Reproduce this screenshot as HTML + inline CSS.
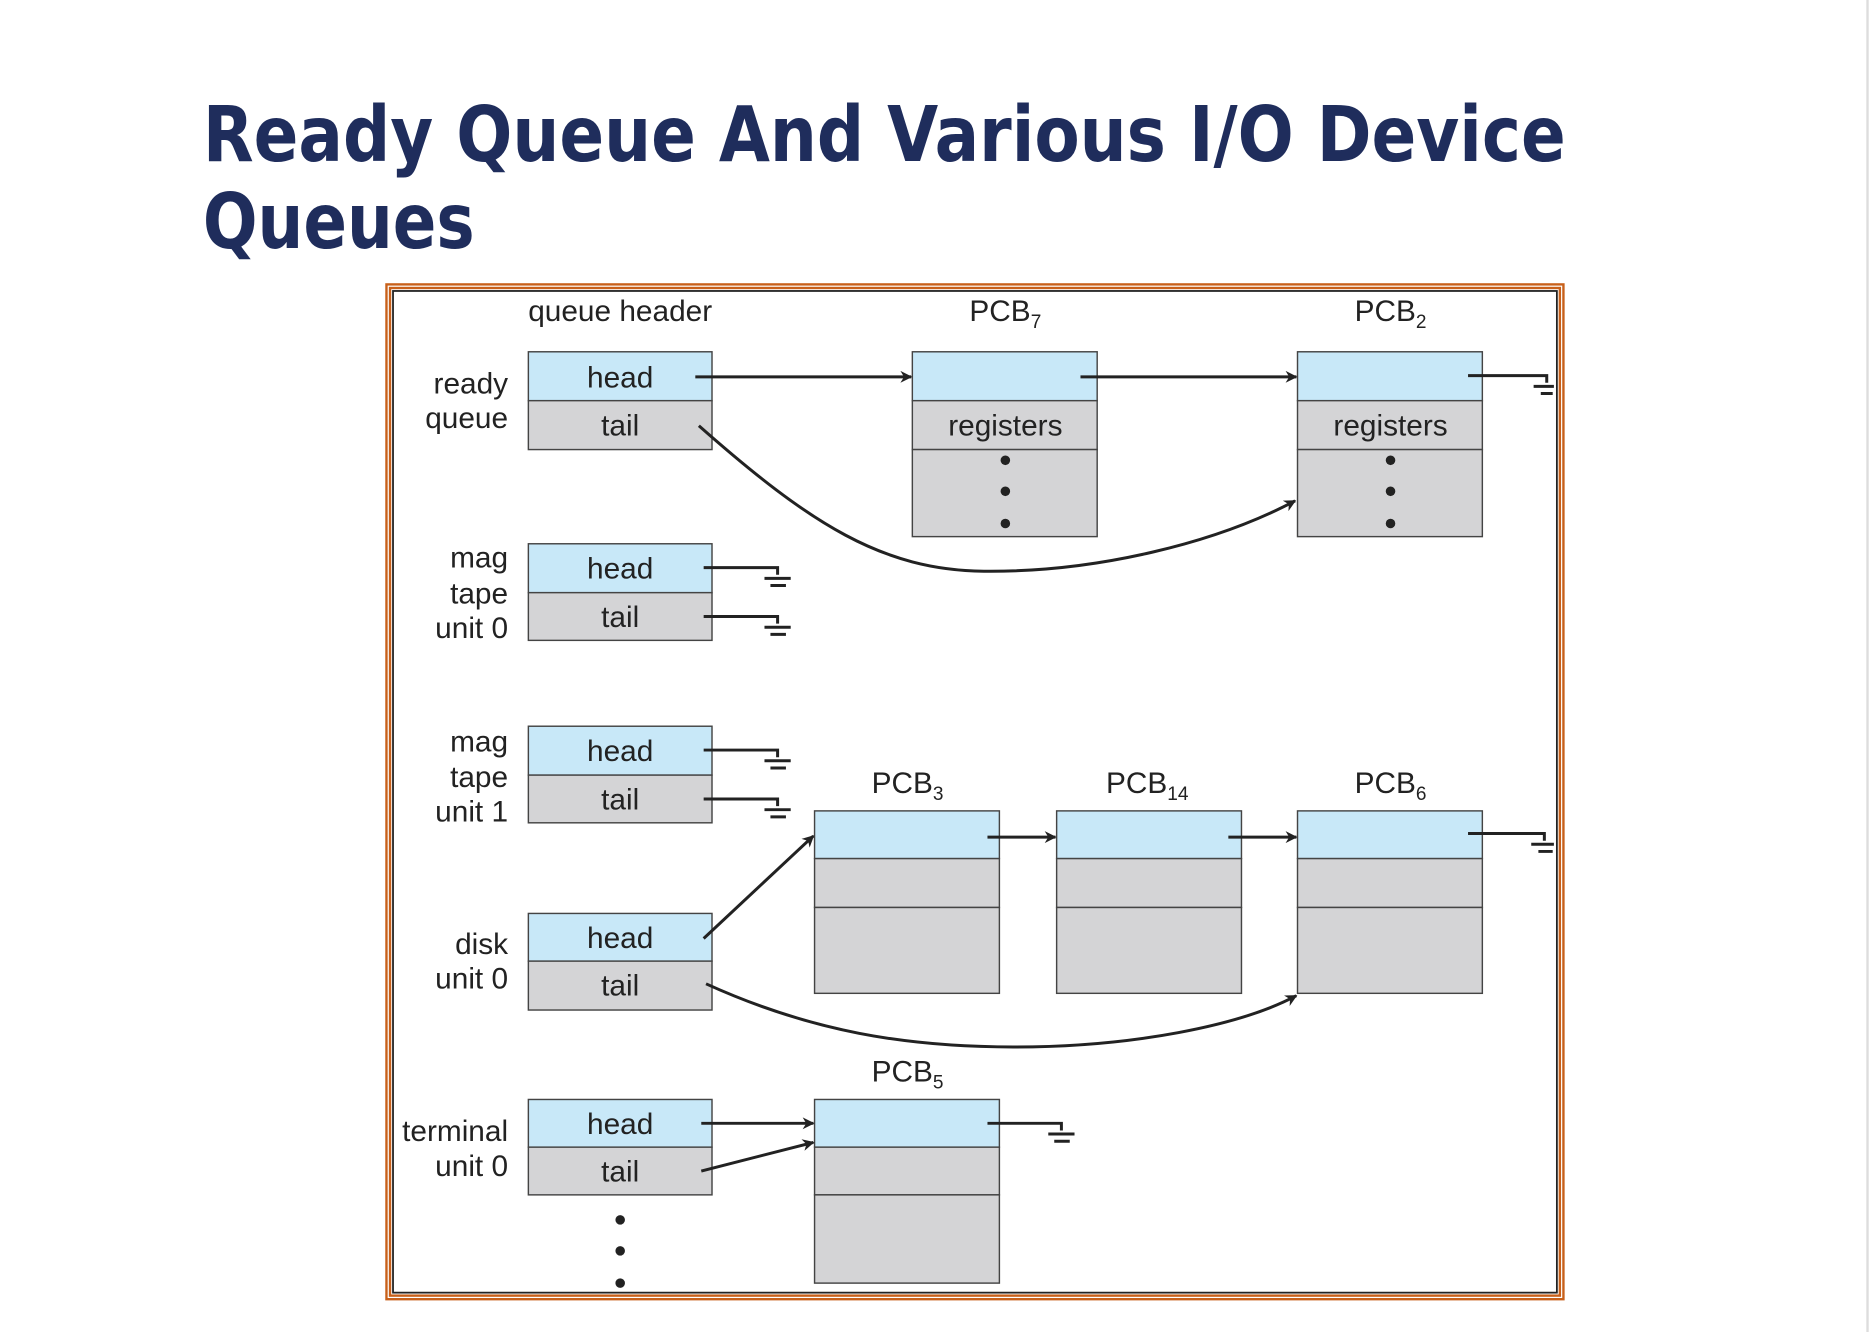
<!DOCTYPE html>
<html><head><meta charset="utf-8"><style>
html,body{margin:0;padding:0;background:#fff;}
svg{display:block;}
text{font-family:"Liberation Sans",Arial,sans-serif;fill:#222;}
</style></head><body>
<svg width="1870" height="1332" viewBox="0 0 1568 1117" xmlns="http://www.w3.org/2000/svg">
<defs>
<marker id="a" markerWidth="10" markerHeight="10" refX="9" refY="5" orient="auto" markerUnits="userSpaceOnUse">
<path d="M0,0 L10,5 L0,10 L3,5 z" fill="#222"/></marker>
</defs>
<rect x="0" y="0" width="1568" height="1117" fill="#fff"/>
<line x1="1566" y1="0" x2="1566" y2="1117" stroke="#ddd" stroke-width="2"/>
<text x="170" y="135" style="font-family:'DejaVu Sans',Verdana,sans-serif;font-weight:bold;font-size:64px;fill:#1f2d5c" textLength="1143" lengthAdjust="spacingAndGlyphs">Ready Queue And Various I/O Device</text>
<text x="170" y="208" style="font-family:'DejaVu Sans',Verdana,sans-serif;font-weight:bold;font-size:64px;fill:#1f2d5c" textLength="228" lengthAdjust="spacingAndGlyphs">Queues</text>
<rect x="324" y="238.5" width="987" height="851" fill="none" stroke="#c8601a" stroke-width="2"/>
<rect x="327" y="241.5" width="981" height="845" fill="none" stroke="#c8601a" stroke-width="2"/>
<rect x="329.5" y="244" width="976" height="840" fill="none" stroke="#222" stroke-width="1.5"/>
<g font-size="25" text-anchor="middle">
<text x="520" y="269">queue header</text>
<text x="843" y="269">PCB<tspan font-size="16" dy="6">7</tspan></text>
<text x="1166" y="269">PCB<tspan font-size="16" dy="6">2</tspan></text>
<text x="761" y="665">PCB<tspan font-size="16" dy="6">3</tspan></text>
<text x="962" y="665">PCB<tspan font-size="16" dy="6">14</tspan></text>
<text x="1166" y="665">PCB<tspan font-size="16" dy="6">6</tspan></text>
<text x="761" y="907">PCB<tspan font-size="16" dy="6">5</tspan></text>
</g>
<g font-size="25" text-anchor="end">
<text x="426" y="330">ready</text><text x="426" y="359">queue</text>
<text x="426" y="476">mag</text><text x="426" y="506">tape</text><text x="426" y="535">unit 0</text>
<text x="426" y="630">mag</text><text x="426" y="660">tape</text><text x="426" y="689">unit 1</text>
<text x="426" y="800">disk</text><text x="426" y="829">unit 0</text>
<text x="426" y="957">terminal</text><text x="426" y="986">unit 0</text>
</g>
<g stroke="#444" stroke-width="1.2">
<!-- queue headers -->
<rect x="443" y="295" width="154" height="41" fill="#c8e8f8"/><rect x="443" y="336" width="154" height="41" fill="#d4d4d6"/>
<rect x="443" y="456" width="154" height="41" fill="#c8e8f8"/><rect x="443" y="497" width="154" height="40" fill="#d4d4d6"/>
<rect x="443" y="609" width="154" height="41" fill="#c8e8f8"/><rect x="443" y="650" width="154" height="40" fill="#d4d4d6"/>
<rect x="443" y="766" width="154" height="40" fill="#c8e8f8"/><rect x="443" y="806" width="154" height="41" fill="#d4d4d6"/>
<rect x="443" y="922" width="154" height="40" fill="#c8e8f8"/><rect x="443" y="962" width="154" height="40" fill="#d4d4d6"/>
<!-- PCB7, PCB2 -->
<rect x="765" y="295" width="155" height="41" fill="#c8e8f8"/><rect x="765" y="336" width="155" height="41" fill="#d4d4d6"/><rect x="765" y="377" width="155" height="73" fill="#d4d4d6"/>
<rect x="1088" y="295" width="155" height="41" fill="#c8e8f8"/><rect x="1088" y="336" width="155" height="41" fill="#d4d4d6"/><rect x="1088" y="377" width="155" height="73" fill="#d4d4d6"/>
<!-- PCB3,14,6 -->
<rect x="683" y="680" width="155" height="40" fill="#c8e8f8"/><rect x="683" y="720" width="155" height="41" fill="#d4d4d6"/><rect x="683" y="761" width="155" height="72" fill="#d4d4d6"/>
<rect x="886" y="680" width="155" height="40" fill="#c8e8f8"/><rect x="886" y="720" width="155" height="41" fill="#d4d4d6"/><rect x="886" y="761" width="155" height="72" fill="#d4d4d6"/>
<rect x="1088" y="680" width="155" height="40" fill="#c8e8f8"/><rect x="1088" y="720" width="155" height="41" fill="#d4d4d6"/><rect x="1088" y="761" width="155" height="72" fill="#d4d4d6"/>
<!-- PCB5 -->
<rect x="683" y="922" width="155" height="40" fill="#c8e8f8"/><rect x="683" y="962" width="155" height="40" fill="#d4d4d6"/><rect x="683" y="1002" width="155" height="74" fill="#d4d4d6"/>
</g>
<g font-size="25" text-anchor="middle">
<text x="520" y="325">head</text><text x="520" y="365">tail</text>
<text x="520" y="485">head</text><text x="520" y="526">tail</text>
<text x="520" y="638">head</text><text x="520" y="679">tail</text>
<text x="520" y="795">head</text><text x="520" y="835">tail</text>
<text x="520" y="951">head</text><text x="520" y="991">tail</text>
<text x="843" y="365">registers</text><text x="1166" y="365">registers</text>
</g>
<g fill="#222">
<circle cx="843" cy="386" r="4"/><circle cx="843" cy="412" r="4"/><circle cx="843" cy="439" r="4"/>
<circle cx="1166" cy="386" r="4"/><circle cx="1166" cy="412" r="4"/><circle cx="1166" cy="439" r="4"/>
<circle cx="520" cy="1023" r="4"/><circle cx="520" cy="1049" r="4"/><circle cx="520" cy="1076" r="4"/>
</g>
<g stroke="#222" stroke-width="2.5" fill="none">
<line x1="583" y1="316" x2="764" y2="316" marker-end="url(#a)"/>
<line x1="906" y1="316" x2="1087" y2="316" marker-end="url(#a)"/>
<path d="M586,357 C680,440 740,478 825,479 C920,480 1020,455 1086,420" marker-end="url(#a)"/>
<line x1="828" y1="702" x2="885" y2="702" marker-end="url(#a)"/>
<line x1="1030" y1="702" x2="1087" y2="702" marker-end="url(#a)"/>
<line x1="590" y1="787" x2="682" y2="701" marker-end="url(#a)"/>
<path d="M592,825 C680,865 760,878 850,878 C950,878 1040,860 1087,835" marker-end="url(#a)"/>
<line x1="588" y1="942" x2="682" y2="942" marker-end="url(#a)"/>
<line x1="588" y1="982" x2="682" y2="958" marker-end="url(#a)"/>
</g>
<g stroke="#222" stroke-width="2.5" fill="none">
<path d="M1231,315 H1297 V321 M1286,324 H1303 M1292,330 H1302"/>
<path d="M1231,699 H1295 V705 M1284,708 H1303 M1290,714 H1302"/>
<path d="M590,476 H652 V482 M641,485 H663 M646,491 H659"/>
<path d="M590,517 H652 V523 M641,526 H663 M646,532 H659"/>
<path d="M590,629 H652 V635 M641,638 H663 M646,644 H659"/>
<path d="M590,670 H652 V676 M641,679 H663 M646,685 H659"/>
<path d="M828,942 H890 V948 M879,951 H901 M884,957 H897"/>
</g>
</svg>
</body></html>
